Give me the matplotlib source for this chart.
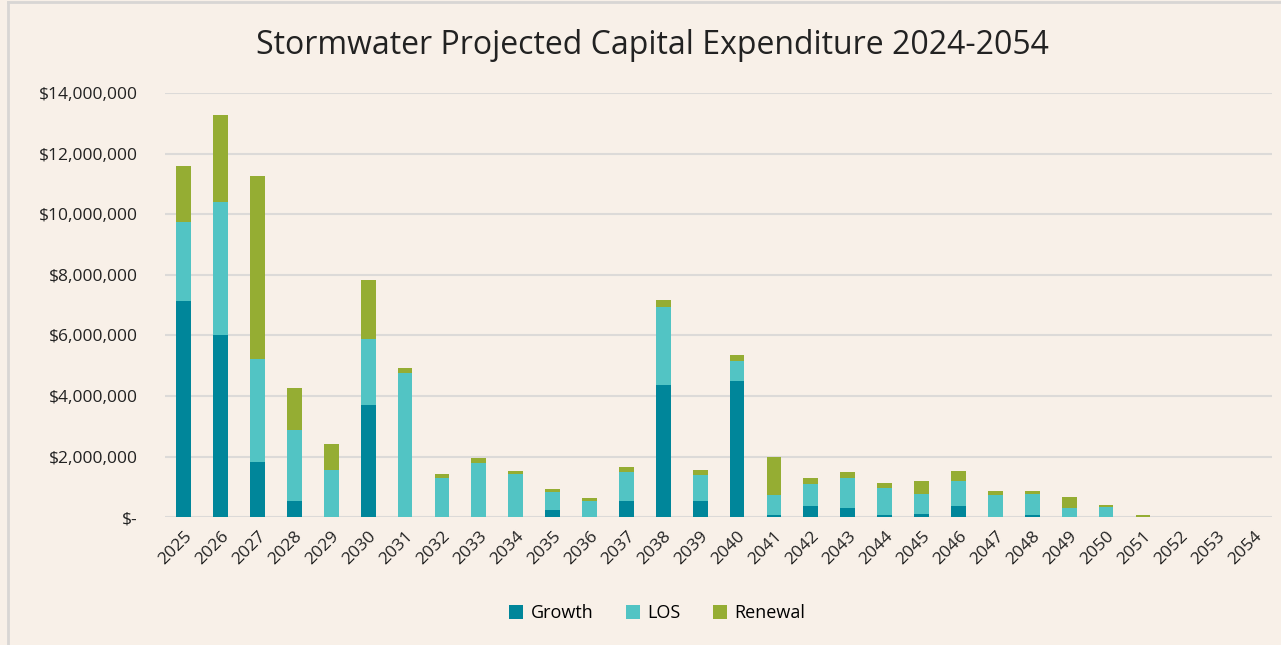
import matplotlib.pyplot as plt
from matplotlib.lines import Line2D
from matplotlib.ticker import FuncFormatter
import numpy as np

plt.rcParams['font.family'] = ['Open Sans', 'DejaVu Sans']

years = [str(y) for y in range(2025, 2055)]

# values in $M
growth = [7.14, 6.00, 1.82, 0.53, 0.00, 3.70, 0.00, 0.00, 0.00, 0.00,
          0.25, 0.00, 0.53, 4.35, 0.53, 4.48, 0.07, 0.36, 0.30, 0.08,
          0.10, 0.36, 0.00, 0.08, 0.00, 0.00, 0.00, 0.00, 0.00, 0.00]
los = [2.60, 4.41, 3.40, 2.35, 1.56, 2.17, 4.75, 1.28, 1.78, 1.44,
       0.59, 0.53, 0.98, 2.58, 0.85, 0.68, 0.66, 0.75, 1.01, 0.89,
       0.67, 0.85, 0.73, 0.69, 0.32, 0.33, 0.00, 0.00, 0.00, 0.00]
renewal = [1.84, 2.87, 6.04, 1.40, 0.87, 1.95, 0.18, 0.14, 0.18, 0.08,
           0.10, 0.10, 0.14, 0.23, 0.17, 0.18, 1.26, 0.18, 0.18, 0.17,
           0.42, 0.31, 0.14, 0.10, 0.34, 0.07, 0.09, 0.00, 0.00, 0.00]

bg = '#F8F0E8'
c_growth = '#00869A'
c_los = '#52C4C4'
c_ren = '#95AD33'

g = np.array(growth) * 1e6
l = np.array(los) * 1e6
r = np.array(renewal) * 1e6
x = np.arange(len(years))

fig = plt.figure(figsize=(12.81, 6.45), dpi=100, facecolor=bg)
ax = fig.add_axes([0.129, 0.198, 0.864, 0.658], facecolor=bg)

w = 0.4
ax.bar(x, g, w, color=c_growth, label='Growth', zorder=3)
ax.bar(x, l, w, bottom=g, color=c_los, label='LOS', zorder=3)
ax.bar(x, r, w, bottom=g + l, color=c_ren, label='Renewal', zorder=3)

ax.set_xlim(-0.5, len(years) - 0.5)
ax.set_ylim(0, 14e6)
ax.set_yticks(np.arange(0, 14e6 + 1, 2e6))
ax.yaxis.set_major_formatter(FuncFormatter(lambda v, p: '$-' if v == 0 else '${:,.0f}'.format(v)))
ax.grid(axis='y', color='#DCDAD8', linewidth=1.5, zorder=0)
for s in ax.spines.values():
    s.set_visible(False)
ax.set_xticks(x)
ax.set_xticklabels(years, rotation=45, ha='right', rotation_mode='anchor')
ax.tick_params(axis='both', length=0, colors='#222222')
ax.tick_params(axis='y', labelsize=12.5, pad=20)
ax.tick_params(axis='x', labelsize=12.5, pad=8)

fig.text(0.509, 0.930, 'Stormwater Projected Capital Expenditure 2024-2054',
         ha='center', va='center', fontsize=23, color='#222222')

ax.legend(loc='center', bbox_to_anchor=(0.513, 0.049), bbox_transform=fig.transFigure,
          ncol=3, frameon=False, fontsize=13, handlelength=0.8, handleheight=0.8,
          handletextpad=0.4, columnspacing=1.8)

# chart frame (top and left edges visible)
fig.add_artist(Line2D([8 / 1281, 8 / 1281], [0, 1 - 2 / 645], transform=fig.transFigure,
                      color='#D8D6D4', linewidth=2))
fig.add_artist(Line2D([8 / 1281, 1], [1 - 2 / 645, 1 - 2 / 645], transform=fig.transFigure,
                      color='#D8D6D4', linewidth=2))

fig.savefig('out.png', dpi=100, facecolor=bg)
